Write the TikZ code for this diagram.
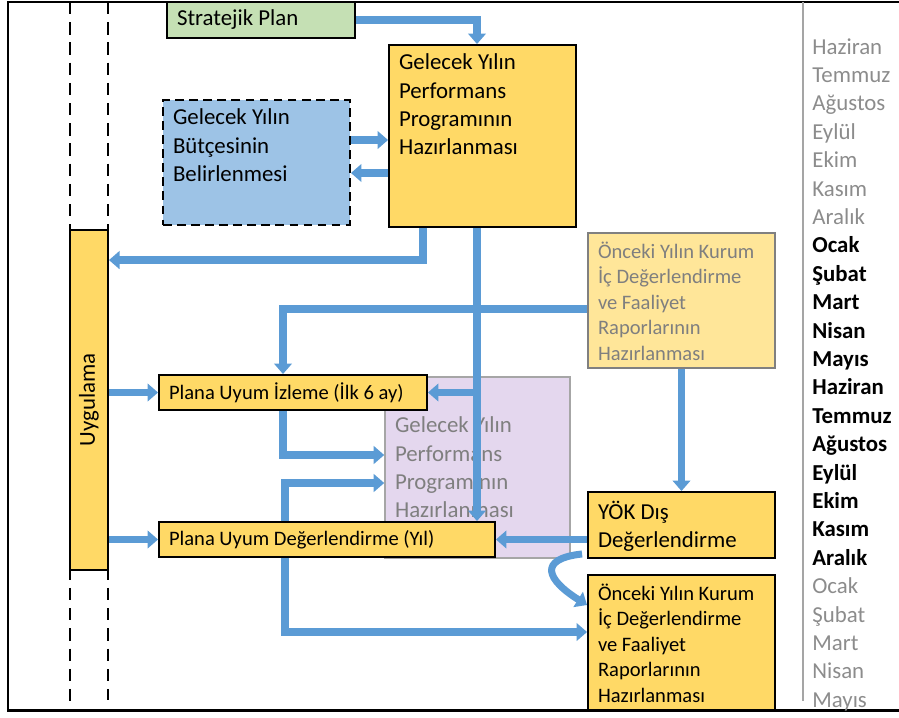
\documentclass[tikz,border=0pt]{standalone}
\usepackage{fontspec}
\setmainfont{Carlito}
\usepackage{graphicx}
\usetikzlibrary{arrows.meta}
\definecolor{planfill}{RGB}{197,224,180}
\definecolor{taskfill}{RGB}{255,217,102}
\definecolor{budgetfill}{RGB}{157,195,230}
\definecolor{fadedfill}{RGB}{255,230,153}
\definecolor{fadedline}{RGB}{128,128,128}
\definecolor{lilac}{RGB}{228,215,238}
\definecolor{lilacline}{RGB}{166,166,166}
\definecolor{fadetext}{RGB}{127,127,127}
\definecolor{flowblue}{RGB}{91,155,213}
\definecolor{monthgray}{RGB}{140,140,140}
\definecolor{sepgray}{RGB}{165,165,165}
\newcommand{\bigtext}{\fontsize{13}{16.1}\selectfont}
\newcommand{\smalltext}{\fontsize{11.7}{14.5}\selectfont}
\newcommand{\boxtext}[3]{\parbox[c][#2][t]{#1}{\raggedright #3}}
\newcommand{\linetext}[2]{\makebox[#1][l]{#2}}
\newcommand{\reporttext}{Önceki Yılın Kurum\\İç Değerlendirme\\ve Faaliyet\\Raporlarının\\Hazırlanması}
\newcommand{\drawflow}{\draw[flow]}
\tikzset{
  box/.style={draw=black, line width=1.1pt, inner xsep=0.2cm, inner ysep=0.18cm},
  taskbox/.style={box, fill=taskfill},
  fadedbox/.style={box, fill=fadedfill, draw=fadedline, line width=0.9pt, text=fadetext},
  ghostbox/.style={box, fill=lilac, draw=lilacline, line width=0.9pt, text=fadetext},
  budgetbox/.style={box, fill=budgetfill, dash pattern=on 5pt off 3pt},
  barbox/.style={taskbox, minimum height=0.7cm, inner ysep=0pt, font=\smalltext},
  flow/.style={draw=flowblue, line width=4.5pt, -{Triangle[width=10pt,length=6pt]}},
  lane/.style={line width=1.1pt, dash pattern=on 7pt off 4.5pt},
  monthold/.style={anchor=base west, inner sep=0pt, text=monthgray, font=\bigtext},
  monthnow/.style={anchor=base west, inner sep=0pt, font=\bigtext\bfseries},
}
\begin{document}
\begin{tikzpicture}[x=0.02cm,y=-0.02cm]
\useasboundingbox (0,0) rectangle (899,717);
% frame, lanes and month column
\draw[line width=1.7pt] (899,2)--(8,2)--(8,710)--(899,710);
\draw[line width=0.6pt, sepgray] (803,2)--(803,701);
\draw[lane] (70,2)--(70,710);
\draw[lane] (108,2)--(108,700);
\foreach \m [count=\i from 0] in {Haziran,Temmuz,Ağustos,Eylül,Ekim,Kasım,Aralık}
  \node[monthold] (prev\i) at (812,54+28.4*\i) {\m};
\foreach \m [count=\i from 7] in {Ocak,Şubat,Mart,Nisan,Mayıs,Haziran,Temmuz,Ağustos,Eylül,Ekim,Kasım,Aralık}
  \node[monthnow] (cur\i) at (812,54+28.4*\i) {\m};
\foreach \m [count=\i from 19] in {Ocak,Şubat,Mart,Nisan,Mayıs}
  \node[monthold] (next\i) at (812,54+28.4*\i) {\m};

% boxes
\node[ghostbox, minimum width=3.7cm, minimum height=3.62cm, font=\bigtext] (ghost) at (477.5,467.5)
  {\parbox{3.3cm}{\raggedright Gelecek Yılın\\Performans\\Programının\\Hazırlanması}};
\node[box, fill=planfill, minimum height=0.72cm, inner ysep=0pt, font=\bigtext] (strat) at (261,20) {\linetext{3.36cm}{Stratejik Plan}};
\node[taskbox, font=\bigtext] (gelecek) at (482.5,136)
  {\boxtext{3.34cm}{3.28cm}{Gelecek Yılın\\Performans\\Programının\\Hazırlanması}};
\node[budgetbox, font=\bigtext] (butce) at (256.5,162.5)
  {\boxtext{3.34cm}{2.14cm}{Gelecek Yılın\\Bütçesinin\\Belirlenmesi}};
\node[taskbox, minimum width=0.76cm, minimum height=6.8cm, inner sep=0pt, font=\bigtext] (uyg) at (89,400) {\rotatebox{90}{Uygulama}};
\node[fadedbox, font=\smalltext] (onceki1) at (681.5,300.5)
  {\boxtext{3.34cm}{2.34cm}{\reporttext}};
\node[barbox] (izleme) at (293,392.5) {\linetext{4.96cm}{Plana Uyum İzleme (İlk 6 ay)}};
\node[barbox] (degerl) at (327,539.5) {\linetext{6.32cm}{Plana Uyum Değerlendirme (Yıl)}};
\node[taskbox, font=\bigtext] (yok) at (681.5,525)
  {\boxtext{3.34cm}{0.96cm}{YÖK Dış\\Değerlendirme}};
\node[taskbox, font=\smalltext] (onceki2) at (681.5,642.5)
  {\boxtext{3.34cm}{2.34cm}{\reporttext}};

% connectors
\coordinate (spine) at ([xshift=-0.11cm]gelecek.south);
\coordinate (b1) at ([yshift=0.45cm]butce.east);
\coordinate (b2) at ([yshift=-0.21cm]butce.east);
\coordinate (g1) at ([xshift=-1.19cm]gelecek.south);
\coordinate (u1) at ([yshift=-0.62cm]uyg.north east);
\coordinate (o1) at ([yshift=-0.17cm]onceki1.west);
\coordinate (i1) at ([xshift=-0.2cm]izleme.north);
\coordinate (i2) at ([xshift=-0.2cm]izleme.south);
\coordinate (p1) at ([yshift=0.25cm]ghost.west);
\coordinate (p2) at ([yshift=-0.31cm]ghost.west);
\coordinate (d1) at ([xshift=-0.84cm]degerl.north);
\coordinate (d2) at ([xshift=-0.84cm]degerl.south);
\coordinate (o2) at ([yshift=0.21cm]onceki2.west);
\coordinate (o3) at ([yshift=0.75cm]onceki2.west);
\coordinate (y1) at ([xshift=-0.1cm,yshift=0.1cm]yok.south west);
\drawflow (strat.east) -| (spine |- gelecek.north);
\drawflow (b1) -- (b1 -| gelecek.west);
\drawflow (b2 -| gelecek.west) -- (b2);
\drawflow (g1) |- (u1);
\drawflow (spine) -- (spine |- degerl.north);
\drawflow (spine |- izleme.east) -- (izleme.east);
\drawflow (o1) -| (i1);
\drawflow (onceki1.south) -- (yok.north);
\drawflow (uyg.east |- izleme.west) -- (izleme.west);
\drawflow (uyg.east |- degerl.west) -- (degerl.west);
\drawflow (yok.west |- degerl.east) -- (degerl.east);
\drawflow (i2) |- (p1);
\drawflow (d1) |- (p2);
\drawflow (d2) |- (o2);
\draw[flow, line width=4pt] (y1) .. controls +(-45,5) and +(-40,-25) .. (o3);
\end{tikzpicture}
\end{document}
